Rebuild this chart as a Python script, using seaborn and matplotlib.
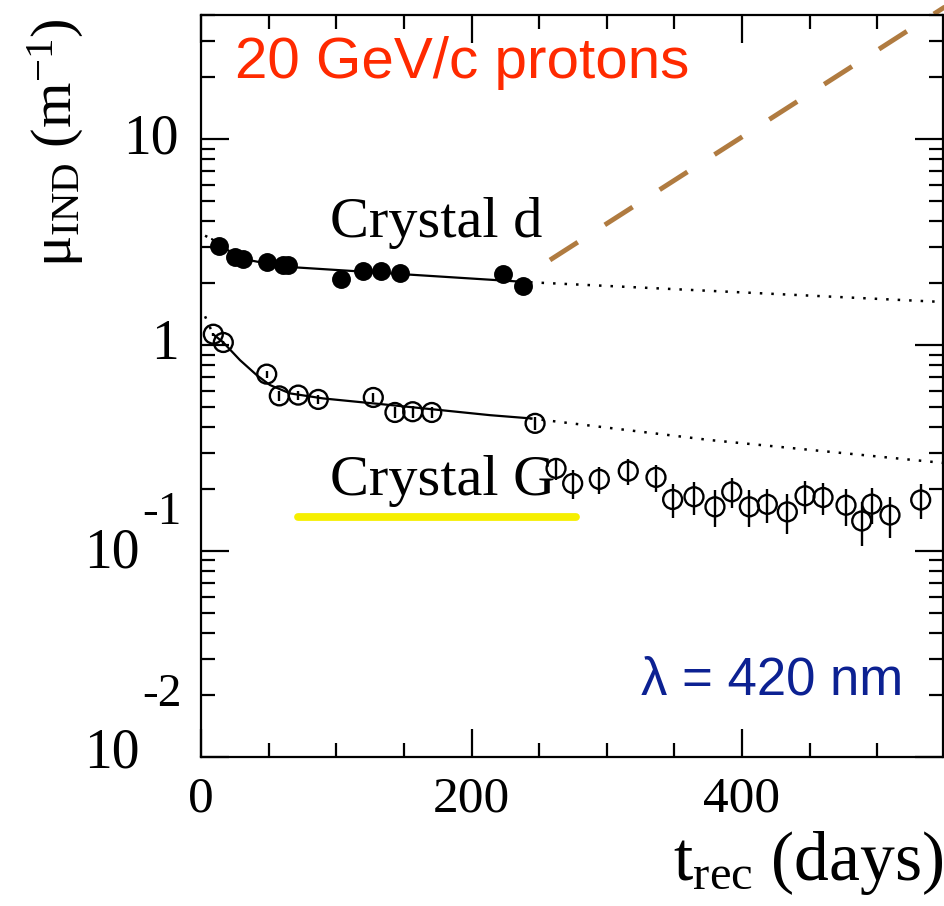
import matplotlib
matplotlib.use("Agg")
import matplotlib.pyplot as plt
from matplotlib.ticker import MultipleLocator, LogLocator, NullFormatter, FixedLocator
import seaborn as sns

# ---- Crystal d: induced absorption vs recovery time (filled markers) ----
d_days = [13.5, 25.1, 31.3, 48.6, 60.4, 64.6, 103.3, 119.5, 132.9, 147.1, 223.5, 237.8]
d_mu = [3.02, 2.68, 2.61, 2.54, 2.45, 2.46, 2.09, 2.29, 2.29, 2.23, 2.21, 1.93]

# ---- Crystal G: induced absorption vs recovery time (open markers, errors) ----
g_days = [9.1, 16.5, 48.6, 57.9, 71.9, 86.7, 127.4, 143.4, 156.5, 170.6, 247.0,
          262.5, 274.8, 294.5, 315.9, 336.4, 348.7, 364.5, 380.0, 392.4, 405.4,
          418.7, 433.5, 446.6, 459.9, 476.9, 488.5, 495.9, 509.4, 532.1]
g_mu = [1.13, 1.03, 0.723, 0.567, 0.572, 0.545, 0.557, 0.471, 0.475, 0.471, 0.417,
        0.252, 0.213, 0.223, 0.2445, 0.228, 0.178, 0.1835, 0.164, 0.194, 0.164,
        0.1686, 0.155, 0.1855, 0.182, 0.167, 0.140, 0.169, 0.1496, 0.177]
g_err = [0.02, 0.02, 0.03, 0.03, 0.03, 0.03, 0.03, 0.03, 0.03, 0.03, 0.03,
         0.030, 0.035, 0.033, 0.034, 0.035, 0.033, 0.034, 0.033, 0.033, 0.033,
         0.032, 0.034, 0.034, 0.033, 0.034, 0.034, 0.033, 0.034, 0.034]

# ---- Recovery fits (fit range solid, extrapolation dotted) ----
d_fit_days = [8.1, 28.8, 47.3, 68.0, 243.3]
d_fit_mu = [3.27, 2.64, 2.50, 2.39, 2.02]
d_pre_days = [3.0, 8.1]
d_pre_mu = [3.40, 3.27]
d_ext_days = [243.3, 548.6]
d_ext_mu = [2.02, 1.62]

g_fit_days = [8.9, 16.3, 28.8, 41.2, 51.0, 65.8, 90.4, 115.1, 139.7, 176.7, 213.7, 243.3]
g_fit_mu = [1.13, 1.034, 0.846, 0.715, 0.64, 0.583, 0.551, 0.531, 0.512, 0.484, 0.457, 0.441]
g_pre_days = [3.0, 8.9]
g_pre_mu = [1.38, 1.13]
g_ext_days = [243.3, 376.3, 548.6]
g_ext_mu = [0.441, 0.346, 0.268]

# ---- Damage build-up projection and reference band ----
proj_days = [258.0, 550.0]
proj_mu = [2.59, 43.9]
band_days = [72.0, 277.0]
band_mu = [0.146, 0.146]

# ---- Axis ticks ----
x_major = [0, 200, 400]
y_decades = [0.01, 0.1, 1, 10]

sns.set_theme(style="ticks")
plt.rcParams.update({
    "font.family": ["Liberation Serif", "DejaVu Serif"],
    "mathtext.fontset": "custom",
    "mathtext.rm": "Liberation Serif",
    "mathtext.it": "Liberation Serif:italic",
    "mathtext.bf": "Liberation Serif:bold",
    "text.color": "black",
    "axes.labelcolor": "black",
    "axes.linewidth": 1.6,
    "axes.edgecolor": "black",
    "xtick.direction": "in",
    "ytick.direction": "in",
    "xtick.top": True,
    "ytick.right": True,
    "xtick.color": "black",
    "ytick.color": "black",
    "xtick.labelcolor": "black",
    "ytick.labelcolor": "black",
})

fig = plt.figure(figsize=(9.45, 9.06), dpi=100)
ax = fig.add_axes([201 / 945, 149 / 906, 742 / 945, 742 / 906])
ax.set_facecolor("white")
ax.set_yscale("log")
ax.set_xlim(0, 548.6)
ax.set_ylim(0.01, 40.1)

# fit curves
line_kw = dict(ax=ax, color="black", sort=False, estimator=None, legend=False)
sns.lineplot(x=d_fit_days, y=d_fit_mu, lw=1.6, zorder=2, **line_kw)
sns.lineplot(x=g_fit_days, y=g_fit_mu, lw=1.6, zorder=2, **line_kw)
for xs, ys in [(d_pre_days, d_pre_mu), (d_ext_days, d_ext_mu),
               (g_pre_days, g_pre_mu), (g_ext_days, g_ext_mu)]:
    sns.lineplot(x=xs, y=ys, lw=1.8, linestyle=(0, (1.0, 3.6)), zorder=2, **line_kw)

# projection and band
sns.lineplot(x=proj_days, y=proj_mu, ax=ax, color="#b07b40", lw=3.5,
             linestyle=(0, (6.8, 6.6)), sort=False, estimator=None,
             legend=False, clip_on=False, zorder=2)
sns.lineplot(x=band_days, y=band_mu, ax=ax, color="#f6ef00", lw=5.6,
             sort=False, estimator=None, legend=False, zorder=2)

# crystal d points
sns.scatterplot(x=d_days, y=d_mu, ax=ax, s=185, color="black",
                edgecolor="black", linewidth=0, zorder=4, legend=False)

# crystal G points with error bars
ax.errorbar(g_days, g_mu, yerr=g_err, fmt="none", ecolor="black",
            elinewidth=1.7, capsize=0, zorder=3)
sns.scatterplot(x=g_days, y=g_mu, ax=ax, s=185, marker="o",
                facecolors="none", edgecolors="black", linewidth=1.7,
                zorder=4, legend=False)

# ticks
ax.xaxis.set_major_locator(FixedLocator(x_major))
ax.xaxis.set_minor_locator(MultipleLocator(50))
ax.set_xticklabels([str(v) for v in x_major])
ax.yaxis.set_major_locator(FixedLocator(y_decades))
ax.yaxis.set_minor_locator(LogLocator(base=10, subs=range(2, 10)))
ax.yaxis.set_minor_formatter(NullFormatter())
ax.set_yticklabels([])
ax.tick_params(which="major", length=20, width=1.6)
ax.tick_params(which="minor", length=10, width=1.6)
ax.tick_params(axis="x", which="major", labelsize=37, pad=14)
ax.tick_params(axis="y", which="major", pad=0)
ax.set_xlabel("")
ax.set_ylabel("")

# y tick labels in ROOT style (base and raised exponent)
ytrans = ax.get_yaxis_transform()
ylab = {10: ("10", None), 1: ("1", None), 0.1: ("10", "-1"), 0.01: ("10", "-2")}
for val in y_decades:
    base, expo = ylab[val]
    if expo is None:
        ax.annotate(base, xy=(0, val), xycoords=ytrans, xytext=(-22, 0),
                    textcoords="offset pixels", ha="right", va="center", size=40)
    else:
        dy_base = -2 if val == 0.1 else 4
        dy_exp = 38 if val == 0.1 else 62
        ax.annotate(base, xy=(0, val), xycoords=ytrans, xytext=(-61, dy_base),
                    textcoords="offset pixels", ha="right", va="center", size=40)
        ax.annotate(expo, xy=(0, val), xycoords=ytrans, xytext=(-19, dy_exp),
                    textcoords="offset pixels", ha="right", va="center", size=34)

# labels inside the frame
ax.text(95.4, 3.35, "Crystal d", ha="left", va="baseline", size=42)
ax.text(95.4, 0.187, "Crystal G", ha="left", va="baseline", size=42)
ax.text(0.046, 0.915, "20 GeV/c protons", transform=ax.transAxes,
        family=["Liberation Sans", "DejaVu Sans"], size=42, color="#ff2a00",
        ha="left", va="baseline")
ax.text(0.946, 0.0836, "λ = 420 nm", transform=ax.transAxes,
        family=["Liberation Sans", "DejaVu Sans"], size=38, color="#0c2192",
        ha="right", va="baseline")

# axis titles
fig.text(56 / 945, 1 - 18 / 906, r"$\mathrm{μ}_{\mathrm{IND}}\ (\mathrm{m}^{-1})$",
         rotation=90, ha="center", va="top", size=42)
fig.text(943 / 945, 1 - 880 / 906, r"$\mathrm{t}_{\mathrm{rec}}\ \mathrm{(days)}$",
         ha="right", va="baseline", size=50)

fig.savefig("out.png", dpi=100, facecolor="white")
